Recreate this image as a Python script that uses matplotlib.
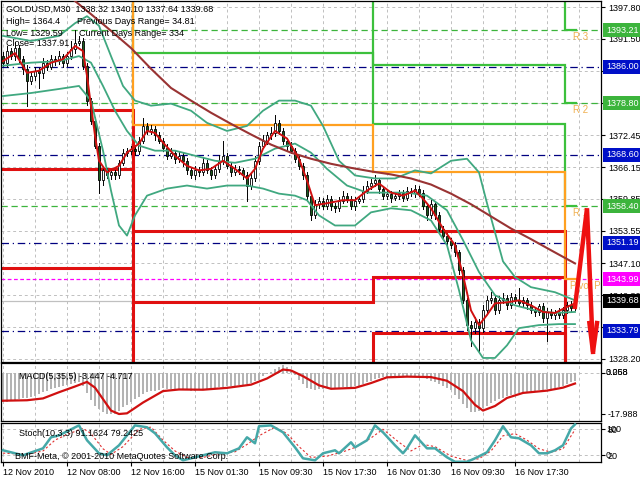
import matplotlib
matplotlib.use("Agg")
import matplotlib.pyplot as plt
import matplotlib.transforms as mtransforms

plt.rcParams['font.family'] = ['Liberation Sans', 'DejaVu Sans']
FS = 6.5

# ---------------- price data (GOLDUSD M30, bar index 0..143) ----------------
first_open = 1388.1
closes = [
    1386.8, 1389.1, 1388.1, 1389.7, 1387.5, 1385.6, 1383.2, 1384.2, 1385.2, 1384.8, 1386.8, 1386.0, 1387.5, 1387.1, 1388.1, 1386.8,
    1388.1, 1389.5, 1390.7, 1391.1, 1386.2, 1379.3, 1375.3, 1370.4, 1363.5, 1365.5, 1364.5, 1365.1, 1364.5, 1367.0, 1369.0, 1369.4,
    1369.8, 1369.4, 1371.4, 1374.3, 1373.3, 1373.7, 1372.4, 1371.4, 1370.0, 1368.4, 1369.0, 1367.8, 1368.4, 1367.4, 1365.5, 1364.5,
    1365.5, 1365.1, 1367.0, 1365.5, 1364.5, 1365.8, 1367.4, 1368.4, 1366.4, 1365.1, 1365.8, 1365.5, 1364.5, 1362.5, 1363.9, 1367.4,
    1370.4, 1371.4, 1372.4, 1372.8, 1374.9, 1373.3, 1371.4, 1370.4, 1369.4, 1367.8, 1366.4, 1364.5, 1360.5, 1356.6, 1358.9, 1359.5,
    1358.5, 1359.9, 1358.5, 1358.0, 1359.5, 1360.5, 1359.9, 1358.5, 1359.5, 1359.9, 1361.5, 1362.5, 1363.1, 1363.5, 1361.9, 1360.5,
    1360.9, 1360.1, 1360.5, 1361.1, 1360.1, 1361.5, 1361.1, 1361.9, 1361.1, 1358.5, 1356.6, 1358.9, 1356.6, 1354.0, 1352.6, 1351.6,
    1350.7, 1349.3, 1345.7, 1339.8, 1334.9, 1334.3, 1335.5, 1334.3, 1337.8, 1339.8, 1340.2, 1337.8, 1339.8, 1340.2, 1338.8, 1340.4,
    1339.8, 1339.2, 1339.8, 1338.8, 1337.8, 1337.4, 1338.6, 1336.3, 1337.4, 1336.9, 1337.4, 1336.9, 1337.8, 1338.8, 1338.32, 1339.68,
]
wick_up = [
    0.8, 1.0, 0.6, 1.2, 0.5, 0.6, 0.8, 0.5, 0.7, 0.6, 1.0, 0.5, 0.8, 0.6, 1.0, 0.5,
    0.8, 1.5, 2.5, 1.0, 0.6, 0.5, 0.6, 0.8, 0.5, 0.6, 0.5, 0.7, 0.5, 0.6, 0.8, 0.5,
    0.6, 0.7, 0.8, 1.5, 0.6, 0.8, 0.5, 0.6, 0.5, 0.7, 1.0, 0.5, 0.8, 0.6, 0.5, 0.6,
    0.8, 0.6, 1.0, 0.5, 0.6, 0.8, 1.2, 3.0, 0.6, 0.5, 0.8, 0.6, 0.5, 0.6, 0.8, 1.0,
    0.8, 1.0, 0.7, 1.2, 1.5, 0.6, 0.5, 0.6, 0.8, 0.5, 0.6, 0.5, 0.6, 0.5, 0.8, 0.7,
    0.6, 0.8, 0.5, 0.6, 0.7, 1.0, 0.5, 0.6, 0.8, 0.6, 1.0, 0.8, 0.7, 1.0, 0.5, 0.6,
    0.7, 0.5, 0.8, 0.6, 0.5, 0.8, 0.6, 0.7, 0.5, 0.6, 0.5, 0.8, 0.5, 0.6, 0.5, 0.6,
    0.5, 0.6, 0.5, 0.6, 0.5, 0.8, 1.0, 0.7, 1.0, 0.8, 1.2, 0.6, 0.8, 1.0, 0.6, 0.8,
    0.7, 2.5, 0.6, 0.5, 0.6, 0.7, 0.5, 0.6, 0.8, 0.6, 0.5, 0.8, 0.6, 0.7, 0.8, 0.4,
]
wick_dn = [
    0.6, 0.8, 0.5, 0.7, 0.8, 1.0, 5.0, 0.6, 0.8, 3.0, 1.0, 0.6, 0.5, 0.7, 0.5, 0.8,
    0.6, 0.5, 0.7, 0.5, 0.6, 0.8, 0.6, 0.5, 2.5, 0.8, 0.6, 0.7, 0.8, 0.6, 0.5, 0.7,
    0.6, 0.8, 0.6, 0.5, 0.7, 0.6, 0.8, 0.5, 0.6, 0.7, 0.5, 0.8, 0.6, 1.0, 0.8, 0.6,
    0.7, 0.8, 0.5, 0.6, 0.7, 0.5, 0.6, 0.7, 0.5, 0.8, 0.6, 0.7, 0.8, 3.0, 0.6, 0.5,
    0.6, 0.5, 0.7, 0.6, 0.5, 0.7, 0.6, 0.8, 0.5, 0.6, 0.7, 0.8, 1.0, 1.0, 0.6, 0.8,
    0.7, 0.6, 0.8, 0.7, 0.6, 0.5, 0.7, 0.6, 0.8, 0.5, 0.6, 0.5, 0.7, 0.6, 0.8, 0.7,
    0.6, 0.8, 0.5, 0.6, 0.7, 0.5, 0.6, 0.8, 0.6, 0.7, 1.0, 0.6, 0.8, 0.6, 0.7, 0.8,
    0.6, 0.8, 0.7, 0.6, 1.0, 3.5, 1.0, 4.5, 0.8, 0.6, 0.5, 0.7, 0.6, 0.5, 0.7, 0.6,
    0.5, 0.6, 0.7, 0.8, 0.6, 0.7, 0.6, 0.8, 4.5, 0.6, 0.7, 0.5, 0.6, 0.5, 0.6, 0.5,
]

# indicator lines on the price chart: (bar index, price)
bb_upper_x = [0, 7, 14, 18, 21, 24, 27, 30, 33, 37, 42, 47, 51, 56, 61, 65, 69, 73, 77, 80, 84, 88, 93, 98, 103, 107, 112, 116, 119, 121, 125, 128, 132, 138, 143]
bb_upper_y = [1392.1, 1391.1, 1392.1, 1394.6, 1396.0, 1394.1, 1388.1, 1382.2, 1379.3, 1378.3, 1378.7, 1377.3, 1374.9, 1373.3, 1374.3, 1377.3, 1379.3,
              1379.3, 1378.3, 1374.3, 1367.4, 1364.5, 1363.9, 1363.9, 1365.5, 1364.9, 1367.4, 1367.8, 1365.1, 1359.0, 1347.5, 1344.4, 1342.4, 1341.4, 1339.8]
bb_mid_x = [0, 7, 14, 19, 22, 25, 28, 31, 34, 38, 43, 48, 53, 58, 63, 68, 73, 77, 81, 86, 91, 96, 101, 106, 111, 115, 119, 123, 128, 133, 138, 143]
bb_mid_y = [1386.2, 1386.8, 1387.1, 1388.1, 1386.8, 1382.2, 1377.3, 1373.3, 1370.4, 1369.4, 1369.4, 1368.4, 1367.4, 1367.0, 1367.8, 1369.8,
            1370.8, 1369.0, 1365.8, 1362.5, 1361.1, 1361.1, 1361.1, 1360.5, 1357.6, 1351.7, 1345.4, 1340.8, 1338.8, 1337.8, 1337.3, 1337.5]
bb_lower_x = [0, 7, 14, 19, 22, 25, 27, 29, 31, 33, 36, 41, 46, 51, 56, 61, 65, 69, 73, 76, 79, 83, 88, 92, 97, 102, 107, 111, 114, 117, 120, 123, 126, 129, 134, 139, 143]
bb_lower_y = [1380.2, 1380.8, 1381.6, 1382.2, 1379.3, 1369.4, 1361.5, 1354.6, 1352.6, 1356.6, 1360.5, 1361.9, 1362.5, 1361.9, 1362.5, 1362.5, 1361.9,
              1360.9, 1360.5, 1359.6, 1356.6, 1354.6, 1354.6, 1357.2, 1358.0, 1357.6, 1355.6, 1350.7, 1341.8, 1331.9, 1328.4, 1328.4, 1330.9, 1334.3,
              1334.9, 1335.1, 1335.1]
ma_fast_x = [0, 3, 6, 9, 12, 15, 18, 20, 21, 22, 23, 24, 26, 29, 31, 34, 36, 38, 40, 43, 46, 49, 52, 55, 58, 61, 63, 65, 68, 71, 74, 76, 78,
             81, 85, 88, 91, 94, 97, 100, 103, 105, 107, 110, 113, 115, 117, 119, 121, 123, 126, 129, 132, 135, 138, 141, 143]
ma_fast_y = [1387.1, 1388.7, 1384.8, 1385.2, 1386.8, 1387.5, 1390.1, 1389.1, 1384.2, 1378.3, 1372.4, 1367.4, 1365.1, 1366.4, 1369.0, 1370.8,
             1373.3, 1372.9, 1371.0, 1368.4, 1366.4, 1365.5, 1365.8, 1367.4, 1365.8, 1363.9, 1365.8, 1369.8, 1373.3, 1371.8, 1367.8, 1363.5,
             1358.6, 1359.0, 1359.6, 1359.6, 1361.5, 1362.9, 1361.1, 1360.5, 1361.5, 1359.9, 1358.0, 1354.0, 1350.7, 1344.8, 1337.8, 1334.9,
             1336.9, 1339.2, 1339.4, 1339.8, 1338.8, 1337.5, 1337.3, 1338.5, 1339.2]
ma_slow_x = [14, 18, 22, 27, 32, 37, 42, 47, 52, 57, 62, 67, 72, 77, 82, 87, 92, 97, 102, 107, 112, 117, 122, 127, 132, 137, 143]
ma_slow_y = [1401.5, 1399.0, 1396.4, 1393.1, 1389.7, 1385.6, 1381.8, 1379.3, 1376.9, 1374.7, 1372.6, 1370.6, 1369.0, 1367.8, 1366.8, 1366.0,
             1365.3, 1364.7, 1363.9, 1362.7, 1360.9, 1358.8, 1356.4, 1354.0, 1351.9, 1349.7, 1347.1]

# daily levels (one value per day: 12 Nov, 15 Nov, 16 Nov, 17 Nov)
day_edges = [-0.5, 32.5, 92.5, 140.5, 143.2]
r3_levels = [1410.0, 1410.0, 1410.0, 1393.21]
r2_levels = [1410.0, 1410.0, 1386.4, 1378.80]
r1_levels = [1410.0, 1388.7, 1374.7, 1358.40]
pivot_levels = [1410.0, 1374.5, 1365.1, 1343.99]
s1_levels = [1377.5, 1353.6, 1353.6, 1300.0]
s2_levels = [1365.8, 1300.0, 1333.3, 1300.0]
s3_levels = [1346.1, 1339.4, 1344.4, 1300.0]

# hand drawn forecast arrow
arrow_x = [143, 146, 147.5]
arrow_y = [1338.5, 1358.0, 1329.6]
head_x = [146.6, 147.5, 148.5]
head_y = [1335.3, 1329.6, 1335.3]

price_ticks = [1397.80, 1391.50, 1385.20, 1378.90, 1372.45, 1366.15, 1359.85, 1353.55, 1347.10, 1340.80, 1334.50, 1328.20]
tagged_levels = [(1393.21, '#3cb43c'), (1386.00, '#0010c8'), (1378.80, '#3cb43c'), (1368.60, '#0010c8'), (1358.40, '#3cb43c'),
                 (1351.19, '#0010c8'), (1343.99, '#ff00ff'), (1339.68, '#000000'), (1333.79, '#0010c8')]
navy_levels = [1386.00, 1368.60, 1351.19, 1333.79]
green_levels = [1393.21, 1378.80, 1358.40]

# MACD(5,35,5)
macd_hist = [
    -12.8, -12.6, -12.3, -12.0, -11.6, -11.2, -11.0, -10.6, -10.0, -9.4, -8.6, -7.8, -7.2, -6.7, -6.3, -5.9,
    -5.5, -5.0, -4.5, -4.2, -6.0, -9.0, -12.0, -14.5, -16.0, -17.2, -17.8, -18.0, -17.8, -16.5, -15.0, -14.0,
    -12.8, -11.6, -10.4, -9.2, -8.5, -8.0, -7.8, -7.6, -6.8, -7.0, -7.2, -7.4, -7.6, -7.6, -7.6, -8.0,
    -7.8, -7.5, -7.2, -7.0, -6.8, -6.6, -6.4, -6.2, -6.0, -5.8, -5.6, -5.4, -5.4, -5.0, -4.4, -3.6,
    -3.0, -1.5, -0.5, 0.5, 1.5, 2.5, 3.2, 2.5, 1.0, -1.0, -3.0, -5.0, -6.5, -7.2, -7.4, -7.2,
    -7.0, -6.8, -6.8, -6.6, -6.5, -6.4, -6.3, -6.2, -6.0, -5.6, -5.0, -4.2, -3.5, -2.8, -2.3, -2.0,
    -2.0, -1.8, -1.7, -1.6, -1.6, -1.5, -1.5, -1.6, -1.8, -2.2, -2.8, -3.4, -4.2, -5.0, -5.8, -6.6,
    -7.6, -9.5, -11.5, -13.5, -15.5, -17.0, -17.2, -16.5, -15.5, -14.5, -13.0, -12.2, -11.5, -10.8, -10.2, -9.7,
    -9.2, -8.8, -8.5, -8.2, -8.0, -7.8, -7.6, -7.4, -7.2, -6.9, -6.6, -6.2, -5.6, -5.0, -4.2, -3.45,
]
macd_sig_x = [0, 6, 10, 14, 18, 21, 23, 25, 27, 29, 31, 35, 40, 44, 50, 56, 62, 66, 70, 72, 75, 79, 82, 88, 92, 96, 101, 107,
              111, 115, 118, 120, 123, 126, 130, 136, 140, 143]
macd_sig_y = [-12.2, -12.0, -11.2, -8.5, -6.0, -4.0, -6.5, -11.5, -16.5, -18.0, -17.7, -13.0, -8.0, -7.3, -7.4, -6.6, -5.2, -2.5,
              1.4, 1.0, -1.5, -5.5, -7.0, -6.6, -4.5, -2.0, -1.7, -1.9, -3.5, -8.0, -14.0, -16.5, -14.5, -11.0, -8.8, -7.8, -6.5, -4.7]

# Stochastic(10,3,3)
stoch_x = [0, 5, 10, 12, 14, 19, 21, 24, 26, 29, 33, 36, 38, 41, 43, 45, 48, 50, 53, 56, 59, 61, 63, 64, 67, 70, 73, 75, 78, 80,
           83, 84, 87, 88, 91, 93, 95, 98, 100, 101, 103, 106, 108, 111, 113, 116, 118, 121, 123, 125, 127, 129, 132, 134, 136, 138,
           140, 142, 143]
stoch_main = [31.5, 20, 36, 61.5, 66, 89, 54.6, 24.6, 20, 43, 89, 84.6, 70.8, 38.4, 20, 8.4, 15.3, 20, 26.9, 24.6, 36, 61.5, 47.7,
              87, 89, 73, 38.4, 13, 8.4, 24.6, 31.5, 24.6, 50, 38.4, 54.6, 89, 73, 43, 24.6, 36, 66, 36, 36, 15.3, 5, 5, 13, 26.9,
              54.6, 87, 61.5, 59.2, 43, 24.6, 24.6, 31.5, 43, 82, 91.2]
stoch_sig_x = [0, 6, 10, 13, 16, 20, 22, 25, 27, 30, 34, 37, 40, 43, 46, 50, 54, 58, 61, 64, 68, 71, 74, 77, 81, 85, 88, 92, 95,
               99, 102, 105, 108, 112, 116, 119, 122, 125, 128, 131, 134, 137, 140, 143]
stoch_sig = [25, 22, 30, 55, 68, 82, 70, 35, 22, 40, 80, 85, 55, 30, 15, 15, 24, 28, 45, 65, 85, 70, 40, 15, 18, 28, 38, 60, 80,
             50, 30, 45, 40, 18, 8, 12, 30, 65, 70, 55, 35, 27, 35, 79.2]

date_labels = ['12 Nov 2010', '12 Nov 08:00', '12 Nov 16:00', '15 Nov 01:30', '15 Nov 09:30',
               '15 Nov 17:30', '16 Nov 01:30', '16 Nov 09:30', '16 Nov 17:30']

# ---------------- figure ----------------
W, H = 640, 480
fig = plt.figure(figsize=(6.4, 4.8), dpi=100)
fig.patch.set_facecolor('white')

def px_axes(top, bottom):
    return fig.add_axes([1 / W, 1 - bottom / H, 600 / W, (bottom - top) / H])

ax = px_axes(1, 362)
ax_macd = px_axes(363, 421)
ax_st = px_axes(423, 462)

XMIN, XMAX = -0.5, 149.5
grid_kw = dict(color='#c0c0c0', linestyle=(0, (3, 3)), linewidth=0.7)
for a in (ax, ax_macd, ax_st):
    a.set_xlim(XMIN, XMAX)
    a.set_xticks(range(0, 150, 8))
    a.grid(True, **grid_kw)
    a.set_axisbelow(True)
    a.yaxis.tick_right()
    a.tick_params(axis='y', direction='out', length=3, width=0.8, labelsize=FS, pad=2)
    a.tick_params(axis='x', length=0, labelbottom=False)
    for s in a.spines.values():
        s.set_color('black')
        s.set_linewidth(0.9)

# ---- price panel ----
ax.set_ylim(1327.6, 1399.0)
ax.set_yticks(price_ticks)
ax.set_yticklabels([f'{v:.2f}' for v in price_ticks])

full_x = [XMIN, XMAX]
for lv in navy_levels:
    ax.plot(full_x, [lv, lv], color='#000080', lw=0.9, ls=(0, (6, 3, 1, 3)), zorder=1)
for lv in green_levels:
    ax.plot(full_x, [lv, lv], color='#3cb43c', lw=0.9, ls=(0, (5, 3)), zorder=1)
ax.plot(full_x, [1343.99, 1343.99], color='#ff00ff', lw=0.9, ls=(0, (3, 2)), zorder=1)
ax.plot(full_x, [1339.68, 1339.68], color='#c0c0c0', lw=0.9, zorder=1)

def step_line(levels, color, lw):
    xs, ys = [], []
    for k, v in enumerate(levels):
        xs += [day_edges[k], day_edges[k + 1]]
        ys += [v, v]
    ax.plot(xs, ys, color=color, lw=lw, solid_joinstyle='miter', zorder=2)

for lv in (s1_levels, s2_levels, s3_levels):
    step_line(lv, '#e01010', 2.2)
for lv in (r1_levels, r2_levels, r3_levels):
    step_line(lv, '#3cc03c', 1.6)
step_line(pivot_levels, '#ffa020', 1.6)

# candles
opens = [first_open] + closes[:-1]
for i, (o, c) in enumerate(zip(opens, closes)):
    hi = max(o, c) + wick_up[i]
    lo = min(o, c) - wick_dn[i]
    ax.plot([i, i], [lo, hi], color='black', lw=0.7, zorder=3)
    body = max(abs(c - o), 0.08)
    ax.bar(i, body, bottom=min(o, c), width=0.62,
           color='white' if c >= o else '#1d5c1d', edgecolor='black', linewidth=0.6, zorder=4)

bb_col = '#40a880'
ax.plot(bb_upper_x, bb_upper_y, color=bb_col, lw=1.3, zorder=5)
ax.plot(bb_mid_x, bb_mid_y, color=bb_col, lw=1.3, zorder=5)
ax.plot(bb_lower_x, bb_lower_y, color=bb_col, lw=1.3, zorder=5)
ax.plot(ma_slow_x, ma_slow_y, color='#993333', lw=1.5, zorder=5)
ax.plot(ma_fast_x, ma_fast_y, color='#d01010', lw=1.4, zorder=6)

ax.plot(arrow_x, arrow_y, color='#ee1111', lw=3.2, solid_joinstyle='miter', zorder=7)
ax.plot(head_x, head_y, color='#ee1111', lw=3.2, solid_joinstyle='miter', zorder=7)

lab_col = '#f0b050'
ax.text(142.6, 1393.21 - 0.3, 'R 3', color=lab_col, fontsize=7, va='top', zorder=6)
ax.text(142.6, 1378.80 - 0.3, 'R 2', color=lab_col, fontsize=7, va='top', zorder=6)
ax.text(142.6, 1358.40 - 0.3, 'R 1', color=lab_col, fontsize=7, va='top', zorder=6)
ax.text(141.8, 1343.99 - 0.3, 'Pivot Point', color=lab_col, fontsize=7, va='top', clip_on=True, zorder=6)

trans = mtransforms.blended_transform_factory(ax.transAxes, ax.transData)
for lv, col in tagged_levels:
    ax.text(1.0 + 5 / 600, lv, f'{lv:.2f}', transform=trans, fontsize=FS, color='white', va='center', ha='left',
            clip_on=False, zorder=10,
            bbox=dict(boxstyle='square,pad=0.28', fc=col, ec='none'))

# header text
def ftext(x, y, s, **kw):
    fig.text(x / W, 1 - y / H, s, fontsize=FS, va='center', ha='left', **kw)

ftext(6, 9, 'GOLDUSD,M30  1338.32 1340.10 1337.64 1339.68')
ftext(6, 21, 'High= 1364.4')
ftext(77, 21, 'Previous Days Range= 34.81')
ftext(6, 33, 'Low= 1329.59')
ftext(79, 33, 'Current Days Range= 334')
ftext(6, 44, 'Close= 1337.91')

# ---- MACD panel ----
ax_macd.set_ylim(-21.05, 4.25)
ax_macd.bar(range(len(macd_hist)), macd_hist, width=0.5, color='#b4b4b4', zorder=2)
ax_macd.plot(macd_sig_x, macd_sig_y, color='#d01010', lw=1.6, zorder=3)
ax_macd.set_yticks([0, -17.988])
ax_macd.set_yticklabels(['', '-17.988'])
ax_macd.grid(False)
for xv in range(0, 150, 8):
    ax_macd.axvline(xv, **grid_kw, zorder=0)
ax_macd.axhline(0, **grid_kw, zorder=0)
mtrans = mtransforms.blended_transform_factory(ax_macd.transAxes, ax_macd.transData)
ax_macd.text(1.0 + 5 / 600, 0, '3.258', transform=mtrans, fontsize=FS, va='center', clip_on=False)
ax_macd.text(1.0 + 5 / 600, 0, '0.068', transform=mtrans, fontsize=FS, va='center', clip_on=False)
ax_macd.text(4, -1.6, 'MACD(5,35,5) -3.447 -4.717', fontsize=FS, va='center', zorder=5)

# ---- Stochastic panel ----
ax_st.set_ylim(4.5, 94.5)
ax_st.plot(stoch_sig_x, stoch_sig, color='#e03030', lw=0.8, ls=(0, (2, 2)), zorder=3)
ax_st.plot(stoch_x, stoch_main, color='#45a8a8', lw=1.8, zorder=4)
ax_st.set_yticks([80, 20])
ax_st.set_yticklabels(['80', '20'])
ax_st.grid(False)
for xv in range(0, 150, 8):
    ax_st.axvline(xv, **grid_kw, zorder=0)
for yv in (80, 20):
    ax_st.axhline(yv, **grid_kw, zorder=0)
strans = mtransforms.blended_transform_factory(ax_st.transAxes, ax_st.transData)
ax_st.text(1.0 + 5 / 600, 80, '100', transform=strans, fontsize=FS, va='center', clip_on=False)
ax_st.text(1.0 + 5 / 600, 20, '0', transform=strans, fontsize=FS, va='center', clip_on=False)
ax_st.text(4, 70, 'Stoch(10,3,3) 91.1624 79.2425', fontsize=FS, va='center', zorder=5)
ax_st.text(3, 18, 'BMF-Meta, \u00a9 2001-2010 MetaQuotes Software Corp.', fontsize=FS, va='center', zorder=5)

ax_st.set_xticks(range(0, 144, 16))
ax_st.set_xticklabels(date_labels, ha='left', fontsize=FS)
ax_st.tick_params(axis='x', length=3, direction='out', labelbottom=True, pad=1.5)

fig.savefig('out.png', dpi=100, facecolor='white')
